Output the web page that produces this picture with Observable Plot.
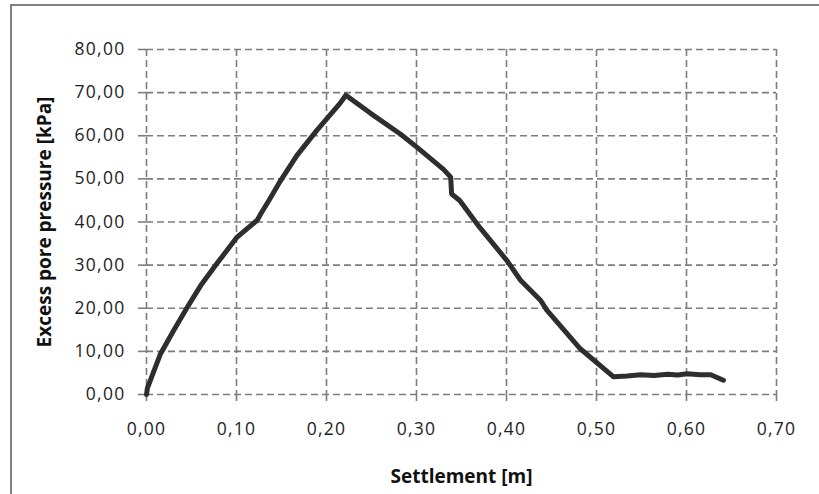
<!DOCTYPE html>
<html><head><meta charset="utf-8">
<script src="https://cdn.jsdelivr.net/npm/d3@7"></script>
<script src="https://cdn.jsdelivr.net/npm/@observablehq/plot@0.6"></script>
<style>
body{margin:0;background:#fff;}
#wrap{position:relative;width:819px;height:494px;overflow:hidden;}
#frame{position:absolute;left:10px;top:4px;width:820px;height:500px;border:2px solid #808080;pointer-events:none;}
g[aria-label$="tick label"] text{letter-spacing:1.3px;}
</style>
</head><body><div id="wrap"><div id="frame"></div></div>
<script>
const settlement = [0.000,0.001,0.0155,0.030,0.045,0.060,0.078,0.1007,0.123,0.127,0.136,0.149,0.167,0.189,0.215,0.2215,0.249,0.282,0.3007,0.330,0.338,0.339,0.348,0.370,0.4007,0.4156,0.438,0.445,0.482,0.519,0.534,0.549,0.564,0.579,0.590,0.6007,0.615,0.627,0.641];
const pressure   = [0.0,1.5,9.4,14.8,20.1,25.2,30.3,36.5,40.4,41.9,45.0,49.6,55.4,61.2,67.5,69.4,65.2,60.4,57.3,52.2,50.4,46.5,45.0,38.8,31.0,26.5,21.8,19.5,10.6,4.1,4.3,4.6,4.4,4.7,4.5,4.8,4.6,4.6,3.3];
const xTicks = [0,0.1,0.2,0.3,0.4,0.5,0.6,0.7];
const yTicks = [0,10,20,30,40,50,60,70,80];
const data = settlement.map((s,i)=>({s, p:pressure[i]}));
const fmt = d => d.toFixed(2).replace(".", ",");
const grid = "#7d7d7d";
const chart = Plot.plot({
  width: 819, height: 494,
  marginLeft: 146, marginRight: 43, marginTop: 49, marginBottom: 100,
  style: {fontFamily: "'Open Sans', sans-serif", fontSize: "17.5px", color: "#1e1e1e", background: "transparent"},
  x: {domain: [0, 0.7]},
  y: {domain: [0, 80]},
  marks: [
    Plot.ruleX(xTicks, {stroke: grid, strokeWidth: 1.6, strokeDasharray: "7,4"}),
    Plot.ruleY(yTicks, {stroke: grid, strokeWidth: 1.6, strokeDasharray: "7,4"}),
    Plot.axisX({ticks: xTicks, tickFormat: fmt, tickSize: 7, stroke: grid, strokeWidth: 1.6, tickPadding: 21, label: null, fontSize: 17.5, fill: "#1e1e1e"}),
    Plot.axisY({ticks: yTicks, tickFormat: fmt, tickSize: 8, stroke: grid, strokeWidth: 1.6, tickPadding: 13, label: null, fontSize: 17.5, fill: "#1e1e1e"}),
    Plot.line(data, {x: "s", y: "p", stroke: "#2e2e2e", strokeWidth: 5, strokeLinejoin: "round", strokeLinecap: "round"}),
    Plot.text(["Settlement [m]"], {frameAnchor: "bottom", dy: 88, fontWeight: "bold", fontSize: 19, fill: "#111"}),
    Plot.text(["Excess pore pressure [kPa]"], {frameAnchor: "left", textAnchor: "middle", dx: -102, rotate: -90, fontWeight: "bold", fontSize: 19, fill: "#111"})
  ]
});
document.getElementById("wrap").prepend(chart);
</script>
</body></html>
